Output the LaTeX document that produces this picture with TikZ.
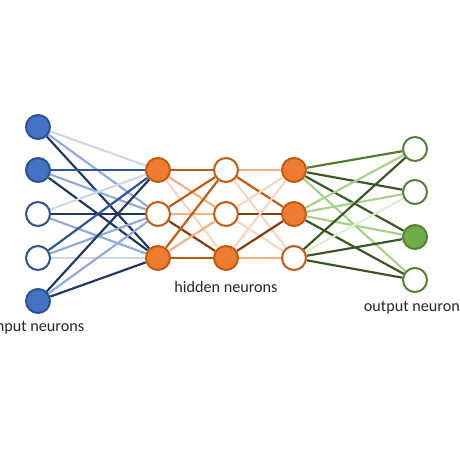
\documentclass[tikz,border=0pt]{standalone}
\usepackage{fontspec}
\setmainfont{Carlito}
\usetikzlibrary{backgrounds}

% neuron colours
\definecolor{inblue}{HTML}{4472C4}
\definecolor{inline}{HTML}{2F528F}
\definecolor{hidorange}{HTML}{ED7D31}
\definecolor{hidline}{HTML}{C55A11}
\definecolor{outgreen}{HTML}{70AD47}
\definecolor{outline}{HTML}{548235}
% connection colours
\definecolor{bdark}{HTML}{1F3864}
\definecolor{bmid}{HTML}{2F5597}
\definecolor{blight}{HTML}{8FAADC}
\definecolor{bpale}{HTML}{D0D8E6}
\definecolor{odark}{HTML}{843C0C}
\definecolor{omid}{HTML}{C55A11}
\definecolor{olight}{HTML}{F4B183}
\definecolor{opale}{HTML}{F8D5BE}
\definecolor{gdark}{HTML}{385723}
\definecolor{gmid}{HTML}{4E7A31}
\definecolor{glight}{HTML}{A9D18E}
\definecolor{gpale}{HTML}{DDEDD2}

\begin{document}
\begin{tikzpicture}[x=0.03cm, y=-0.03cm,
    neuron/.style={circle, minimum size=0.72cm, inner sep=0pt, line width=0.06cm},
    inon/.style={neuron, draw=inline, fill=inblue},
    inoff/.style={neuron, draw=inline, fill=white},
    hidon/.style={neuron, draw=hidline, fill=hidorange},
    hidoff/.style={neuron, draw=hidline, fill=white},
    outon/.style={neuron, draw=outline, fill=outgreen},
    outoff/.style={neuron, draw=outline, fill=white},
    link/.style={line width=0.065cm},
    layerlabel/.style={font=\fontsize{13.8}{16}\selectfont, text=black!85, inner sep=0pt}]
    \useasboundingbox (0,0) rectangle (460,460);

    % Input layer
    \node[inon]  (i1) at (38,127) {};
    \node[inon]  (i2) at (38,170) {};
    \node[inoff] (i3) at (38,214) {};
    \node[inoff] (i4) at (38,258) {};
    \node[inon]  (i5) at (38,301) {};

    % Hidden layers
    \node[hidon]  (a1) at (158,170) {};
    \node[hidoff] (a2) at (158,214) {};
    \node[hidon]  (a3) at (158,258) {};
    \node[hidoff] (b1) at (226,170) {};
    \node[hidoff] (b2) at (226,214) {};
    \node[hidon]  (b3) at (226,258) {};
    \node[hidon]  (c1) at (294,170) {};
    \node[hidon]  (c2) at (294,214) {};
    \node[hidoff] (c3) at (294,258) {};

    % Output layer
    \node[outoff] (o1) at (415,149) {};
    \node[outoff] (o2) at (415,192) {};
    \node[outon]  (o3) at (415,237) {};
    \node[outoff] (o4) at (415,280) {};

    % Labels
    \node[layerlabel] (inlabel)  at (38,328)  {Input neurons};
    \node[layerlabel] (hidlabel) at (226,287) {hidden neurons};
    \node[layerlabel] (outlabel) at (415,308) {output neurons};

    % Connections, behind the neurons
    \begin{pgfonlayer}{background}
    \foreach \from/\to/\col in {i1/a1/bpale, i1/a2/blight, i1/a3/bdark,
        i2/a1/bmid, i2/a2/blight, i2/a3/bdark,
        i3/a1/bpale, i3/a2/bdark, i3/a3/blight,
        i4/a1/bmid, i4/a2/blight, i4/a3/bpale,
        i5/a1/bdark, i5/a2/blight, i5/a3/bdark}
        \draw[link, \col] (\from) -- (\to);

    \foreach \from/\to/\col in {a1/b1/omid, a1/b2/olight, a1/b3/opale,
        a2/b1/omid, a2/b2/olight, a2/b3/odark,
        a3/b1/omid, a3/b2/olight, a3/b3/omid,
        b1/c1/olight, b1/c2/omid, b1/c3/opale,
        b2/c1/opale, b2/c2/odark, b2/c3/opale,
        b3/c1/opale, b3/c2/odark, b3/c3/olight}
        \draw[link, \col] (\from) -- (\to);

    \foreach \from/\to/\col in {c1/o1/gmid, c1/o2/gdark, c1/o3/gdark, c1/o4/glight,
        c2/o1/glight, c2/o2/glight, c2/o3/glight, c2/o4/gdark,
        c3/o1/gdark, c3/o2/gpale, c3/o3/gdark, c3/o4/gdark}
        \draw[link, \col] (\from) -- (\to);
    \end{pgfonlayer}
\end{tikzpicture}
\end{document}
